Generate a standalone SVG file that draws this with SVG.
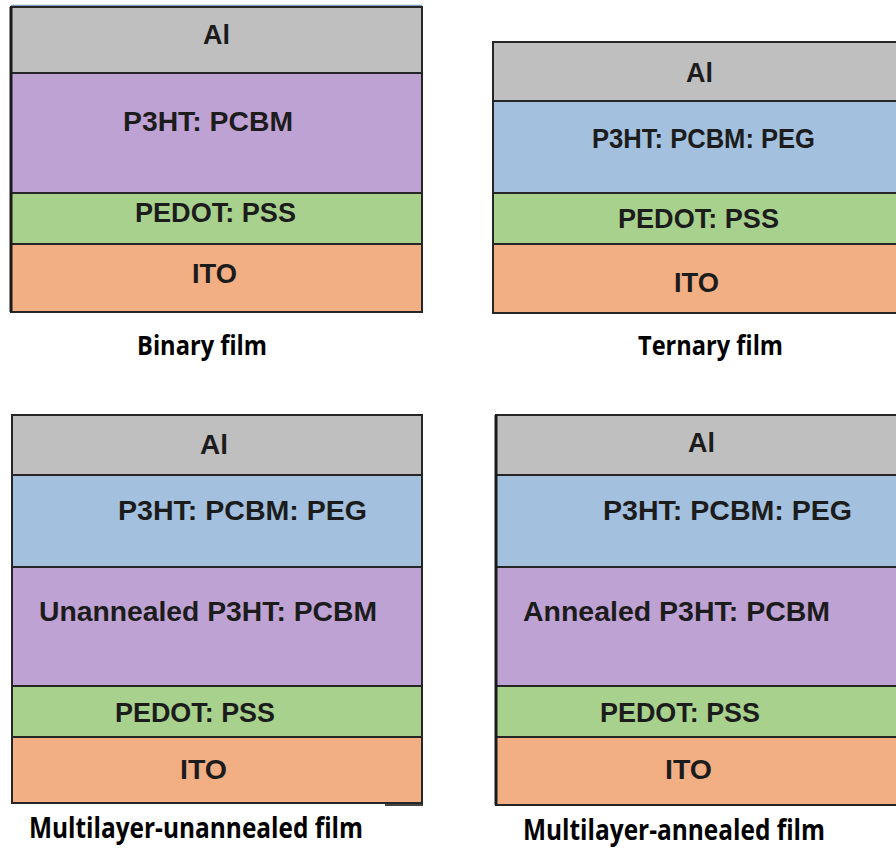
<svg xmlns="http://www.w3.org/2000/svg" width="896" height="852" viewBox="0 0 896 852">
<style>
.lay{stroke:#262626;stroke-width:2}
.al{fill:#BFBFBF}.pu{fill:#BFA2D4}.bl{fill:#A3C1DF}.gr{fill:#A8D18D}.or{fill:#F3AF84}
.t{font-family:"Liberation Sans",Arial,sans-serif;font-weight:bold;font-size:27px;fill:#1c1c1c}
.cap{font-family:"Open Sans","Liberation Sans",sans-serif;font-weight:bold;fill:#000}
</style>
<rect width="896" height="852" fill="#fff"/>

<g id="binary">
  <line x1="11" y1="5.5" x2="422" y2="5.5" stroke="#7F9FC6" stroke-width="1.5"/>
  <g id="b-al"><rect class="lay al" x="11" y="7" width="411" height="66"/>
    <text class="t" x="203" y="44" textLength="27" lengthAdjust="spacingAndGlyphs">Al</text></g>
  <g id="b-p3ht"><rect class="lay pu" x="11" y="73" width="411" height="120"/>
    <text class="t" x="123" y="131" textLength="170" lengthAdjust="spacingAndGlyphs">P3HT: PCBM</text></g>
  <g id="b-pedot"><rect class="lay gr" x="11" y="193" width="411" height="51"/>
    <text class="t" x="135" y="222" textLength="161" lengthAdjust="spacingAndGlyphs">PEDOT: PSS</text></g>
  <g id="b-ito"><rect class="lay or" x="11" y="244" width="411" height="68"/>
    <text class="t" x="192" y="283" textLength="45" lengthAdjust="spacingAndGlyphs">ITO</text></g>
  <line x1="11" y1="7" x2="11" y2="312" stroke="#1a1a1a" stroke-width="3"/>
  <text class="cap" x="137" y="355" font-size="26" textLength="130" lengthAdjust="spacingAndGlyphs">Binary film</text>
</g>

<g id="ternary">
  <g id="t-al"><rect class="lay al" x="493" y="42" width="410" height="59"/>
    <text class="t" x="686" y="82" textLength="27" lengthAdjust="spacingAndGlyphs">Al</text></g>
  <g id="t-blend"><rect class="lay bl" x="493" y="101" width="410" height="92"/>
    <text class="t" x="592" y="148" textLength="223" lengthAdjust="spacingAndGlyphs">P3HT: PCBM: PEG</text></g>
  <g id="t-pedot"><rect class="lay gr" x="493" y="193" width="410" height="51"/>
    <text class="t" x="618" y="228" textLength="161" lengthAdjust="spacingAndGlyphs">PEDOT: PSS</text></g>
  <g id="t-ito"><rect class="lay or" x="493" y="244" width="410" height="69"/>
    <text class="t" x="674" y="292" textLength="45" lengthAdjust="spacingAndGlyphs">ITO</text></g>
  <text class="cap" x="638" y="355" font-size="26" textLength="145" lengthAdjust="spacingAndGlyphs">Ternary film</text>
</g>

<g id="multilayer-unannealed">
  <g id="u-al"><rect class="lay al" x="12" y="415" width="410" height="60"/>
    <text class="t" x="200" y="454" textLength="28" lengthAdjust="spacingAndGlyphs">Al</text></g>
  <g id="u-blend"><rect class="lay bl" x="12" y="475" width="410" height="92"/>
    <text class="t" x="118" y="520" textLength="249" lengthAdjust="spacingAndGlyphs">P3HT: PCBM: PEG</text></g>
  <g id="u-p3ht"><rect class="lay pu" x="12" y="567" width="410" height="119"/>
    <text class="t" x="39" y="621" textLength="338" lengthAdjust="spacingAndGlyphs">Unannealed P3HT: PCBM</text></g>
  <g id="u-pedot"><rect class="lay gr" x="12" y="686" width="410" height="51"/>
    <text class="t" x="115" y="722" textLength="160" lengthAdjust="spacingAndGlyphs">PEDOT: PSS</text></g>
  <g id="u-ito"><rect class="lay or" x="12" y="737" width="410" height="66"/>
    <text class="t" x="180" y="779" textLength="47" lengthAdjust="spacingAndGlyphs">ITO</text></g>
  <line x1="385" y1="805" x2="423" y2="805" stroke="#444" stroke-width="2"/>
  <text class="cap" x="29" y="838" font-size="28" textLength="334" lengthAdjust="spacingAndGlyphs">Multilayer-unannealed film</text>
</g>

<g id="multilayer-annealed">
  <g id="a-al"><rect class="lay al" x="496" y="415" width="410" height="60"/>
    <text class="t" x="688" y="452" textLength="27" lengthAdjust="spacingAndGlyphs">Al</text></g>
  <g id="a-blend"><rect class="lay bl" x="496" y="475" width="410" height="92"/>
    <text class="t" x="603" y="520" textLength="249" lengthAdjust="spacingAndGlyphs">P3HT: PCBM: PEG</text></g>
  <g id="a-p3ht"><rect class="lay pu" x="496" y="567" width="410" height="119"/>
    <text class="t" x="523" y="621" textLength="307" lengthAdjust="spacingAndGlyphs">Annealed P3HT: PCBM</text></g>
  <g id="a-pedot"><rect class="lay gr" x="496" y="686" width="410" height="51"/>
    <text class="t" x="600" y="722" textLength="160" lengthAdjust="spacingAndGlyphs">PEDOT: PSS</text></g>
  <g id="a-ito"><rect class="lay or" x="496" y="737" width="410" height="68"/>
    <text class="t" x="665" y="779" textLength="47" lengthAdjust="spacingAndGlyphs">ITO</text></g>
  <line x1="496" y1="415" x2="496" y2="805" stroke="#1a1a1a" stroke-width="3"/>
  <text class="cap" x="523" y="840" font-size="28" textLength="302" lengthAdjust="spacingAndGlyphs">Multilayer-annealed film</text>
</g>

<g id="connectors"/>
</svg>
